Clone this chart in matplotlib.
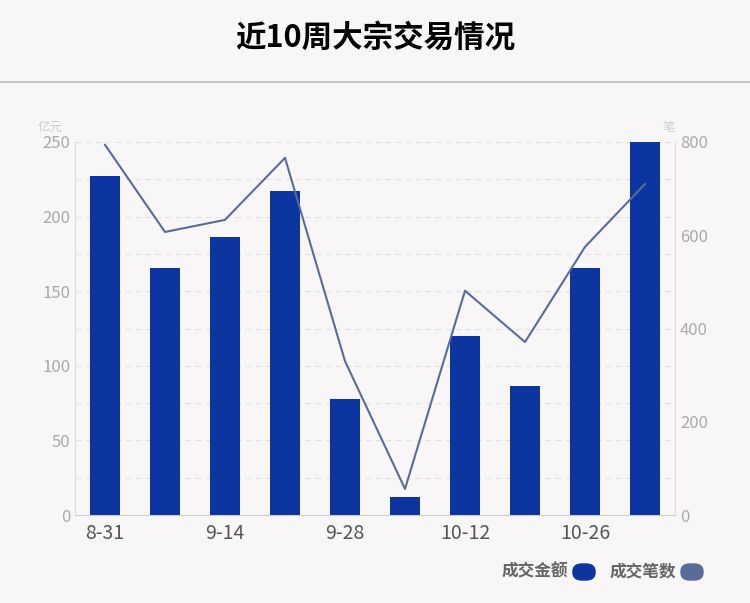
import matplotlib.pyplot as plt
from matplotlib.patches import FancyBboxPatch
from matplotlib.lines import Line2D

plt.rcParams['font.family'] = ['Noto Sans CJK SC', 'DejaVu Sans']

weeks = ["8-31", "9-7", "9-14", "9-21", "9-28", "10-5", "10-12", "10-19", "10-26", "11-2"]
amount = [227, 165.5, 186, 217, 78, 12, 120, 86.5, 165.5, 250]
deals = [794, 607, 633, 766, 330, 56, 481, 371, 575, 710]

bg = "#f9f6f8"
bar_color = "#0c35a0"
line_color = "#5a6b9a"

fig = plt.figure(figsize=(7.5, 6.03), dpi=100, facecolor=bg)
fig.text(0.5, 0.937, "近10周大宗交易情况", ha="center", va="center", fontsize=22, fontweight="bold")
fig.add_artist(Line2D([0, 1], [1 - 82 / 603] * 2, color="#c8c8c8", lw=1.5))

ax = fig.add_axes([75 / 750, 1 - 515 / 603, 600 / 750, 373 / 603], facecolor=bg)
x = range(len(weeks))
ax.bar(x, amount, width=0.5, color=bar_color, zorder=2)
ax.set_ylim(0, 250)
ax.set_xlim(-0.5, len(weeks) - 0.5)
ax.set_yticks(range(0, 251, 50))
ax.set_xticks(list(x)[::2])
ax.set_xticklabels(weeks[::2], fontsize=14, color="#555555")
ax.tick_params(axis="y", colors="#aaaaaa", labelsize=12, length=0)
ax.tick_params(axis="x", length=0, pad=6)
for v in range(25, 251, 25):
    ax.axhline(v, color="#e2e2e2", lw=0.8, ls=(0, (5, 4)), zorder=0)
for s in ["top", "right"]:
    ax.spines[s].set_visible(False)
ax.spines["left"].set_color("#dddddd")
ax.spines["bottom"].set_color("#cccccc")
ax.text(-0.02, 1.03, "亿元", transform=ax.transAxes, fontsize=9, color="#cccccc", ha="right")

ax2 = ax.twinx()
ax2.plot(x, deals, color=line_color, lw=1.5, zorder=3)
ax2.set_ylim(0, 800)
ax2.set_yticks(range(0, 801, 200))
ax2.tick_params(axis="y", colors="#aaaaaa", labelsize=12, length=0)
for s in ["top", "left", "bottom"]:
    ax2.spines[s].set_visible(False)
ax2.spines["right"].set_color("#dddddd")
ax2.text(1.0, 1.03, "笔", transform=ax.transAxes, fontsize=9, color="#cccccc", ha="right")

fig.text(568 / 750, 1 - 571 / 603, "成交金额", ha="right", va="center", fontsize=12, color="#666666", fontweight="bold")
fig.text(676 / 750, 1 - 571 / 603, "成交笔数", ha="right", va="center", fontsize=12, color="#666666", fontweight="bold")
for px, c in [(573, bar_color), (681, line_color)]:
    fig.add_artist(FancyBboxPatch((px / 750, 1 - 580 / 603), 22 / 750, 16 / 603,
                                  boxstyle="round,pad=0,rounding_size=0.012",
                                  transform=fig.transFigure, color=c))

fig.savefig("out.png", facecolor=bg)
